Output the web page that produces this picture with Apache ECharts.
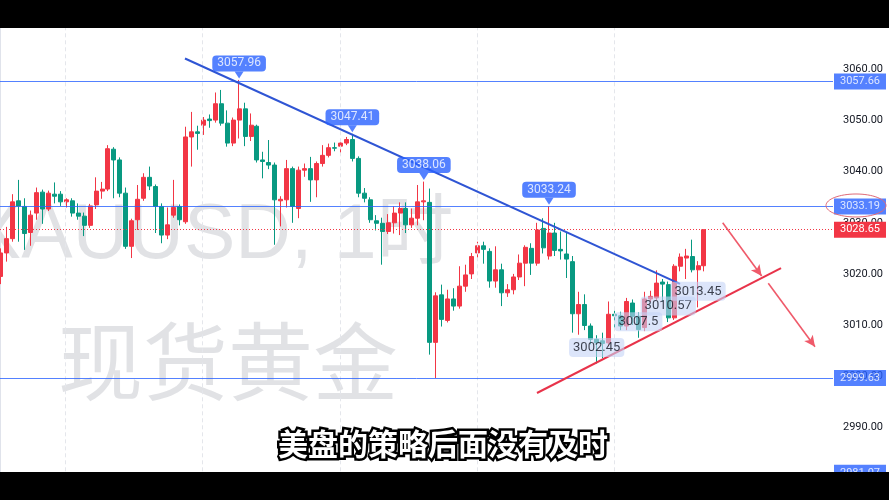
<!DOCTYPE html>
<html><head><meta charset="utf-8">
<script src="https://cdn.jsdelivr.net/npm/echarts@6/dist/echarts.min.js"></script>
<style>html,body{margin:0;padding:0;background:#fff}#c{width:889px;height:500px}</style>
</head><body><div id="c"></div><script>
// XAUUSD 1H candles (index = hour slot)
const opens  = [3019.5,3024.1,3026.9,3034.3,3033.2,3028.1,3031.9,3036.0,3032.7,3035.6,3035.6,3034.1,3034.3,3031.9,3031.3,3029.5,3033.5,3036.2,3036.6,3044.4,3042.3,3035.8,3025.4,3030.6,3034.8,3038.9,3037.1,3033.2,3027.6,3031.5,3033.2,3030.2,3046.8,3047.8,3049.1,3050.3,3050.1,3053.3,3049.5,3045.6,3050.1,3052.3,3046.9,3048.9,3042.3,3041.8,3041.3,3034.3,3034.5,3040.6,3032.8,3040.3,3040.6,3038.4,3041.6,3043.2,3044.7,3045.0,3045.6,3046.3,3042.6,3035.8,3034.5,3030.4,3029.9,3028.3,3030.0,3031.9,3032.8,3029.6,3030.9,3034.1,3034.0,3006.6,3015.9,3010.9,3015.1,3013.7,3017.6,3020.0,3024.1,3025.5,3024.4,3018.6,3020.8,3016.3,3016.9,3019.4,3022.1,3025.0,3022.1,3028.9,3023.5,3028.0,3024.8,3023.9,3022.4,3012.2,3014.0,3009.8,3007.2,3006.9,3006.5,3012.1,3011.8,3009.8,3014.3,3011.7,3009.5,3015.1,3015.3,3018.4,3017.9,3011.4,3021.5,3023.1,3023.4,3020.8,3021.6];
const closes = [3024.1,3026.9,3034.1,3033.3,3027.9,3031.5,3035.9,3032.7,3035.8,3035.2,3034.1,3034.5,3031.9,3031.3,3029.5,3033.3,3036.2,3036.6,3044.5,3042.3,3035.8,3025.4,3030.4,3034.6,3038.9,3037.2,3033.2,3027.6,3029.6,3033.0,3030.6,3046.8,3047.8,3047.5,3050.1,3050.0,3053.3,3049.5,3045.6,3050.1,3052.3,3046.9,3049.1,3042.3,3042.0,3041.3,3034.5,3034.6,3040.6,3033.2,3040.3,3040.6,3038.4,3041.6,3043.2,3044.7,3044.6,3045.6,3046.3,3042.6,3035.8,3034.8,3030.6,3029.9,3028.3,3030.0,3031.9,3032.8,3029.6,3030.9,3034.1,3034.3,3006.6,3015.7,3011.1,3015.1,3013.7,3017.6,3019.8,3023.4,3025.5,3024.8,3018.6,3020.8,3016.3,3016.9,3019.4,3022.1,3025.2,3022.1,3028.6,3025.1,3028.0,3024.6,3024.5,3022.9,3012.2,3014.0,3009.9,3007.2,3006.5,3006.4,3012.1,3011.8,3009.8,3014.6,3011.7,3009.1,3015.1,3015.6,3018.2,3018.0,3011.4,3021.5,3023.3,3023.5,3020.8,3021.6,3028.65];
const lows   = [3018.0,3022.4,3026.3,3026.3,3024.7,3025.5,3030.6,3029.8,3032.3,3033.8,3033.3,3033.0,3031.2,3030.6,3027.4,3029.0,3032.7,3034.7,3036.2,3034.8,3035.0,3024.9,3023.1,3028.6,3034.3,3036.4,3028.0,3026.0,3026.8,3031.0,3029.5,3029.8,3041.0,3044.3,3047.2,3048.6,3049.6,3049.0,3044.9,3045.0,3046.5,3045.0,3046.0,3041.8,3038.7,3040.5,3025.7,3029.3,3033.0,3030.0,3030.9,3039.0,3034.1,3035.0,3041.0,3042.8,3044.0,3043.6,3045.2,3042.0,3035.0,3034.0,3030.0,3028.5,3021.8,3027.8,3027.9,3027.6,3028.0,3029.0,3029.5,3030.5,3004.2,2999.63,3009.7,3010.5,3012.8,3013.2,3016.5,3019.0,3023.0,3022.0,3017.3,3017.3,3013.7,3015.5,3016.0,3018.8,3017.6,3019.8,3021.6,3024.0,3022.8,3023.5,3022.8,3019.2,3008.5,3008.1,3009.0,3006.2,3002.45,3003.5,3005.8,3009.0,3009.0,3009.0,3010.0,3007.5,3008.8,3014.5,3014.8,3014.5,3010.57,3011.0,3020.5,3019.0,3020.3,3013.45,3020.5];
const highs  = [3025.0,3029.2,3035.6,3038.4,3034.8,3032.4,3036.9,3036.5,3036.3,3037.9,3036.2,3034.8,3034.8,3033.8,3032.0,3033.7,3038.9,3038.0,3045.2,3044.8,3042.8,3036.9,3030.8,3037.4,3039.7,3041.0,3037.5,3033.8,3033.0,3038.4,3033.6,3048.8,3051.7,3049.0,3050.7,3051.2,3055.5,3056.0,3052.0,3050.6,3057.96,3053.5,3051.4,3049.2,3043.9,3046.2,3041.8,3035.2,3042.3,3041.0,3041.0,3041.6,3042.9,3042.0,3045.2,3045.5,3045.7,3046.1,3046.8,3047.41,3043.0,3036.8,3035.0,3031.5,3031.0,3031.7,3033.2,3034.0,3034.0,3032.8,3037.4,3038.06,3036.7,3016.4,3017.9,3016.9,3017.2,3021.5,3021.8,3024.1,3026.3,3026.3,3025.0,3025.4,3022.0,3018.0,3020.0,3023.8,3025.6,3026.0,3030.0,3030.9,3033.24,3030.0,3028.3,3028.0,3023.5,3016.5,3016.0,3010.3,3008.0,3008.5,3014.6,3012.8,3012.6,3015.3,3015.0,3012.5,3016.5,3016.7,3020.7,3019.0,3018.5,3021.9,3024.0,3024.9,3026.7,3022.5,3028.65];

// price axis ticks
const yMin = 2980, yMax = 3070, yStep = 10;
// horizontal drawing levels
const hLevels = [3057.66, 3033.19, 2999.63, 2981.07];
const lastPrice = 3028.65;
// swing-high callouts
const peakIdx  = [40, 59, 71, 92];
const peakVals = [3057.96, 3047.41, 3038.06, 3033.24];
// swing-low notes
const noteIdx  = [100, 107, 112, 117];
const noteVals = [3002.45, 3007.5, 3010.57, 3013.45];
// session (day) separators, in hour slots
const dayBreaks = [10.8, 33.8, 56.9, 79.9, 102.9];
// trend lines & projection arrows [slot, price]
const downTrend = [[30.92, 3062.15], [113.98, 3018.04]];
const upTrend   = [[89.98, 2996.69], [130.93, 3021.15]];
const arrowA    = [[121.14, 3030.02], [127.68, 3019.59]];
const arrowB    = [[128.79, 3018.16], [136.63, 3005.75]];
const slotMin = -0.12, slotMax = 139.65;

const UP = '#f23645', DOWN = '#089981', BLUE = '#2962ff';
const FONT = 'Roboto, "Liberation Sans", sans-serif';

const candles = opens.map((o, i) => [i, o, closes[i], lows[i], highs[i]]);

const chart = echarts.init(document.getElementById('c'), null, {renderer: 'canvas'});

const hLineData = hLevels.map(v => ({
  yAxis: v,
  lineStyle: {color: BLUE, width: 1, type: 'solid', opacity: 0.8},
  label: {show: true, position: 'end', distance: 1, formatter: v.toFixed(2),
    backgroundColor: BLUE, color: '#fff', padding: [2, 6], fontSize: 11, lineHeight: 12, fontFamily: FONT}
}));
hLineData.push({
  yAxis: lastPrice,
  lineStyle: {color: UP, width: 1, type: [1, 2]},
  label: {show: true, position: 'end', distance: 1, formatter: lastPrice.toFixed(2),
    backgroundColor: UP, color: '#fff', padding: [2, 6], fontSize: 11, lineHeight: 12, fontFamily: FONT}
});

const seg = (pts, color, width) => {
  const ls = {color: color, width: width, type: 'solid'};
  return [{coord: pts[0], lineStyle: ls}, {coord: pts[1], lineStyle: ls}];
};

chart.setOption({
  animation: false,
  backgroundColor: '#ffffff',
  grid: {left: 0, right: 56, top: 18.4, bottom: 21.7, containLabel: false},
  xAxis: {type: 'value', min: slotMin, max: slotMax, show: false, splitLine: {show: false}},
  yAxis: {
    type: 'value', position: 'right', min: yMin, max: yMax, interval: yStep, scale: true,
    axisLine: {show: true, lineStyle: {color: '#e0e3eb'}},
    axisTick: {show: false},
    splitLine: {show: false},
    axisLabel: {margin: 10, color: '#131722', fontSize: 11, fontFamily: FONT, formatter: v => v.toFixed(2)}
  },
  graphic: [
    {id: 'wm1', type: 'text', z: 0, x: -30, y: 237, silent: true,
     style: {text: 'XAUUSD, 1时', font: '77px "Liberation Sans", "Noto Sans CJK SC", sans-serif', fill: 'rgba(149,152,161,0.28)', verticalAlign: 'middle'}},
    {id: 'wm2', type: 'text', z: 0, x: 58, y: 362, silent: true,
     style: {text: '现货黄金', font: '85px "Noto Sans CJK SC", sans-serif', fill: 'rgba(149,152,161,0.28)', verticalAlign: 'middle'}},
    {id: 'barTop', type: 'rect', z: 100, shape: {x: 0, y: 0, width: 889, height: 28}, style: {fill: '#000'}},
    {id: 'barBot', type: 'rect', z: 100, shape: {x: 0, y: 472, width: 889, height: 28}, style: {fill: '#000'}},
    {id: 'subBack', type: 'text', z: 101, x: 443, y: 444,
     style: {text: '美盘的策略后面没有及时', font: 'bold 30px "Noto Sans CJK SC", sans-serif', fill: '#000', stroke: '#000', lineWidth: 5, align: 'center', verticalAlign: 'middle'}},
    {id: 'subFront', type: 'text', z: 102, x: 443, y: 444,
     style: {text: '美盘的策略后面没有及时', font: 'bold 30px "Noto Sans CJK SC", sans-serif', fill: '#fff', align: 'center', verticalAlign: 'middle'}}
  ],
  series: [
    {
      type: 'line', z: 1, data: [], silent: true,
      markLine: {silent: true, symbol: 'none', animation: false, label: {show: false},
        data: dayBreaks.map(v => ({xAxis: v, lineStyle: {color: '#e4e6eb', width: 1, type: [4, 3]}}))}
    },
    {
      type: 'candlestick', z: 2, data: candles, barWidth: 4.5,
      itemStyle: {color: UP, color0: DOWN, borderColor: UP, borderColor0: DOWN, borderWidth: 1}
    },
    {
      type: 'line', z: 3, data: [], silent: true,
      markLine: {silent: true, symbol: 'none', animation: false, data: hLineData}
    },
    {
      type: 'line', z: 4, data: [], silent: true,
      markLine: {silent: true, animation: false, symbol: ['none', 'none'], label: {show: false},
        lineStyle: {type: 'solid', width: 2},
        data: [seg(downTrend, '#2f55d4', 2), seg(upTrend, '#e8334a', 2)]}
    },
    {
      type: 'line', z: 4, data: [], silent: true,
      markLine: {silent: true, animation: false, symbol: ['none', 'arrow'], symbolSize: [8, 11], label: {show: false},
        lineStyle: {type: 'solid', width: 1.6, color: '#ef5a6a'},
        itemStyle: {color: '#ef5a6a'},
        data: [seg(arrowA, '#ef5a6a', 1.6), seg(arrowB, '#ef5a6a', 1.6)]}
    },
    {
      type: 'scatter', z: 5, silent: true,
      data: noteIdx.map((x, i) => [x, noteVals[i]]),
      symbolSize: 1, itemStyle: {color: 'rgba(0,0,0,0)'},
      label: {show: true, position: 'inside', offset: [0, -16], formatter: p => String(p.value[1]),
        backgroundColor: 'rgba(196,212,247,0.75)', color: '#131722', padding: [3, 4], borderRadius: 4,
        fontSize: 13, fontFamily: FONT}
    },
    {
      type: 'scatter', z: 6, silent: true,
      data: peakIdx.map((x, i) => [x, peakVals[i]]),
      symbol: 'triangle', symbolRotate: 180, symbolSize: [9, 7], symbolOffset: [0, -5],
      itemStyle: {color: BLUE},
      label: {show: true, position: 'top', distance: 0, formatter: p => p.value[1].toFixed(2),
        backgroundColor: BLUE, color: '#fff', padding: [2, 5], borderRadius: 4, fontSize: 12, lineHeight: 12, fontFamily: FONT}
    }
  ]
});

// hand-drawn ellipse around the 3033.19 price tag
const ey = chart.convertToPixel({yAxisIndex: 0}, hLevels[1]);
const ex = chart.convertToPixel({xAxisIndex: 0}, slotMax);
chart.setOption({graphic: [
  {id: 'ring', type: 'ellipse', z: 99, silent: true, shape: {cx: ex + 23, cy: ey - 1, rx: 30, ry: 11.5},
   style: {fill: 'none', stroke: '#e06a78', lineWidth: 1}}
]});
</script></body></html>
